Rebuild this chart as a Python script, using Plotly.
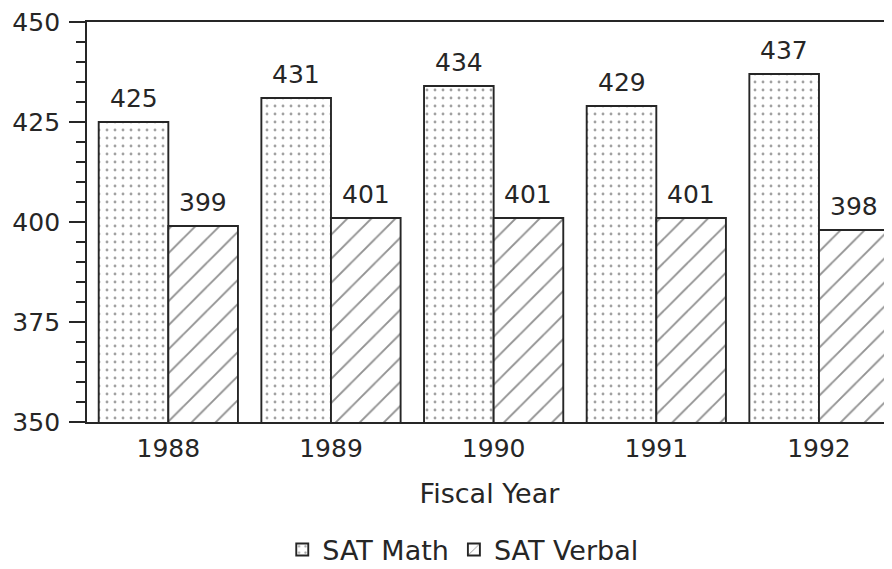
import plotly.graph_objects as go

years = ["1988", "1989", "1990", "1991", "1992"]
sat_math = [425, 431, 434, 429, 437]
sat_verbal = [399, 401, 401, 401, 398]

ink = "#262626"
font_family = "DejaVu Sans, Arial, sans-serif"
bargap = 0.144
half = (1 - bargap) / 4  # center offset of each bar within its group

fig = go.Figure()
fig.add_trace(go.Bar(
    x=years, y=sat_math, name="SAT Math",
    marker=dict(color="white", line=dict(color=ink, width=1.9),
                pattern=dict(shape=".", size=8, solidity=0.1, fgcolor="#444444", bgcolor="white")),
))
fig.add_trace(go.Bar(
    x=years, y=sat_verbal, name="SAT Verbal",
    marker=dict(color="white", line=dict(color=ink, width=1.9),
                pattern=dict(shape="/", size=17, solidity=0.11, fgcolor=ink, bgcolor="white")),
))

# value labels above bars, placed from the data
for i, (m, v) in enumerate(zip(sat_math, sat_verbal)):
    for off, val in ((-half, m), (half, v)):
        fig.add_annotation(x=i + off, y=val, xref="x", yref="y", text=str(val),
                           showarrow=False, yanchor="bottom", yshift=7,
                           font=dict(size=25, color=ink, family=font_family))

fig.update_layout(
    width=884, height=561,
    margin=dict(l=79, r=0, t=11, b=147),
    paper_bgcolor="white", plot_bgcolor="white",
    barmode="group", bargap=bargap, bargroupgap=0,
    font=dict(family=font_family, color=ink, size=24),
    showlegend=True,
    legend=dict(orientation="h", xref="container", yref="container",
                x=0.515, xanchor="center", y=0.034, yanchor="middle",
                font=dict(size=27, color=ink), traceorder="normal"),
    xaxis=dict(
        type="category", range=[-0.5, 4.449],
        showline=True, linecolor=ink, linewidth=1.9, mirror=True,
        ticks="", ticklabelstandoff=3,
        tickfont=dict(size=25, color=ink),
        title=dict(text="Fiscal Year", font=dict(size=27, color=ink), standoff=22),
        showgrid=False, zeroline=False,
    ),
    yaxis=dict(
        range=[350, 450], tickvals=[350, 375, 400, 425, 450],
        showline=True, linecolor=ink, linewidth=1.9,
        ticks="outside", ticklen=16, tickwidth=1.9, tickcolor=ink,
        ticklabelstandoff=4, ticklabeloverflow="allow",
        tickfont=dict(size=25, color=ink),
        minor=dict(dtick=5, ticks="outside", ticklen=9, tickwidth=1.5, tickcolor=ink, showgrid=False),
        showgrid=False, zeroline=False,
    ),
)

fig.write_html("out.html")
